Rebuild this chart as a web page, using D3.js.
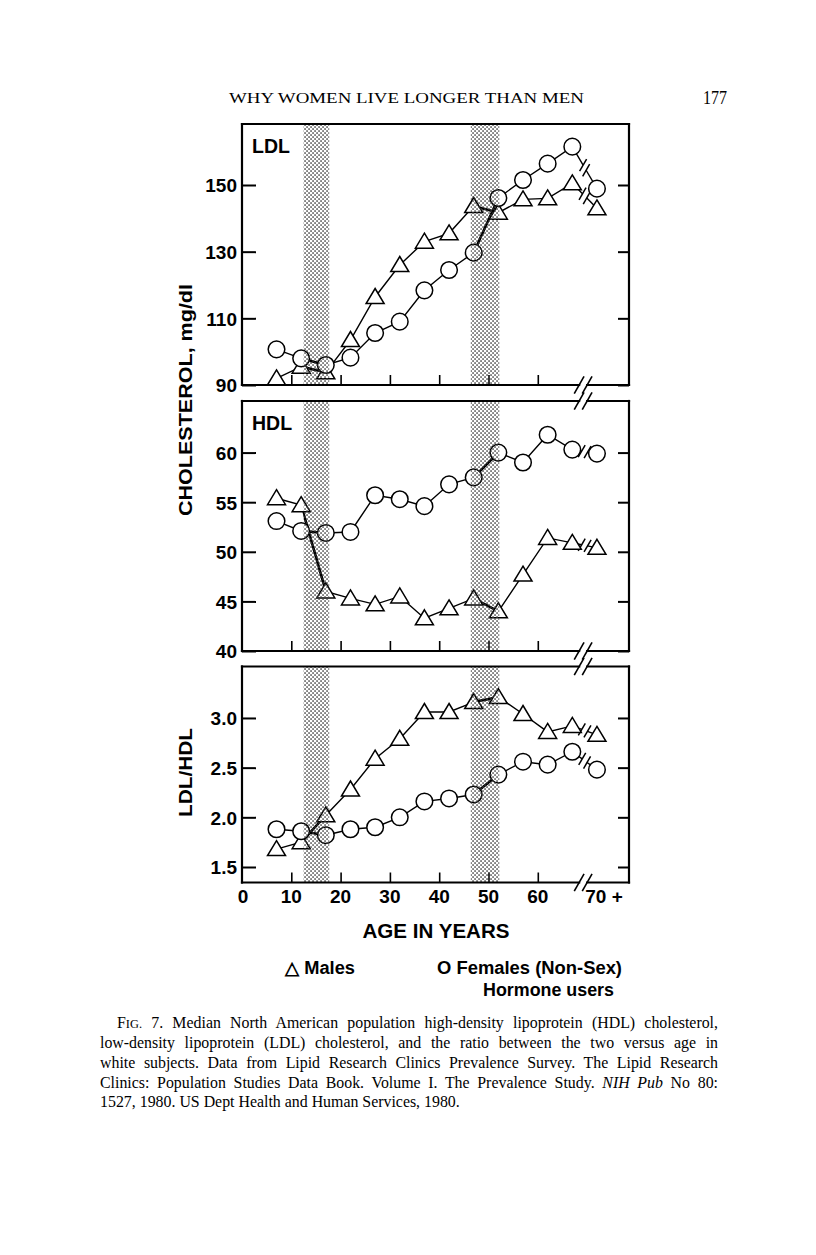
<!DOCTYPE html>
<html><head><meta charset="utf-8">
<script src="https://cdn.jsdelivr.net/npm/d3@7/dist/d3.min.js"></script>
<style>body{margin:0;background:#fff}svg{display:block}</style>
</head><body>
<svg id="c" width="816" height="1255"></svg>
<script>
// ---- data ----
const ages = [7, 12, 17, 22, 27, 32, 37, 42, 47, 52, 57, 62, 67, 72]; // last = "70 +"
const ldlFemales = [100.7, 98, 96, 98.2, 105.6, 109, 118.4, 124.5, 129.7, 146.1, 151.5, 156.4, 161.5, 148.9];
const ldlMales   = [92, 95.5, 93.8, 103.5, 116.4, 126, 133, 135.5, 143.7, 141.7, 145.7, 146, 150.5, 143];
const hdlFemales = [53.1, 52.1, 51.9, 52.0, 55.7, 55.3, 54.6, 56.8, 57.5, 60.0, 59.0, 61.8, 60.3, 59.9];
const hdlMales   = [55.4, 54.7, 46.0, 45.3, 44.7, 45.5, 43.3, 44.3, 45.3, 44.0, 47.7, 51.4, 50.9, 50.4];
const ratioFemales = [1.88, 1.86, 1.82, 1.88, 1.90, 2.00, 2.16, 2.19, 2.23, 2.43, 2.56, 2.53, 2.66, 2.48];
const ratioMales   = [1.68, 1.75, 2.02, 2.28, 2.59, 2.79, 3.06, 3.06, 3.16, 3.21, 3.04, 2.86, 2.92, 2.83];
const ldlTicks = [90, 110, 130, 150];
const hdlTicks = [40, 45, 50, 55, 60];
const ratioTicks = [1.5, 2.0, 2.5, 3.0];
const xTicks = [0, 10, 20, 30, 40, 50, 60];
const xLastLabel = "70 +";
const bands = [[12.5, 17.7], [46.4, 52.2]];
const breakAge = 69.2;

const svg = d3.select("#c");
const SANS = "'Liberation Sans', Arial, Helvetica, sans-serif";
const SERIF = "'Liberation Serif', 'Times New Roman', serif";

const x = d3.scaleLinear().domain([0, 78.5]).range([242, 629]);
const X0 = 242, X1 = 629;

// stipple pattern
const defs = svg.append("defs");
const pat = defs.append("pattern").attr("id", "stip").attr("patternUnits", "userSpaceOnUse")
  .attr("width", 4).attr("height", 4);
pat.append("rect").attr("x", 0.3).attr("y", 0.3).attr("width", 1.5).attr("height", 1.5).attr("fill", "#3a3a3a");
pat.append("rect").attr("x", 2.3).attr("y", 2.3).attr("width", 1.5).attr("height", 1.5).attr("fill", "#3a3a3a");

const panels = [
  {id: "ldl", top: 124, bottom: 385, domain: [90, 168.3], ticks: ldlTicks, fmt: d3.format("d"),
   f: ldlFemales, m: ldlMales, label: "LDL", topBreak: false},
  {id: "hdl", top: 401, bottom: 651, domain: [40, 65.2], ticks: hdlTicks, fmt: d3.format("d"),
   f: hdlFemales, m: hdlMales, label: "HDL", topBreak: true},
  {id: "ratio", top: 666.5, bottom: 882.5, domain: [1.344, 3.518], ticks: ratioTicks, fmt: d3.format(".1f"),
   f: ratioFemales, m: ratioMales, label: null, topBreak: true}
];

const bx = x(breakAge);

function hBorder(g, y, withBreak) {
  if (!withBreak) {
    g.append("line").attr("x1", X0).attr("x2", X1).attr("y1", y).attr("y2", y);
    return;
  }
  g.append("line").attr("x1", X0).attr("x2", bx - 4).attr("y1", y).attr("y2", y);
  g.append("line").attr("x1", bx + 4).attr("x2", X1).attr("y1", y).attr("y2", y);
  [bx - 4, bx + 4].forEach(cx => {
    g.append("line").attr("x1", cx - 4.5).attr("y1", y + 8).attr("x2", cx + 4.5).attr("y2", y - 8)
      .attr("stroke-width", 1.6);
  });
}

const triPath = "M0,-8.5L9,6.5L-9,6.5Z";

panels.forEach((p, pi) => {
  const y = d3.scaleLinear().domain(p.domain).range([p.bottom, p.top]);
  const g = svg.append("g");

  // axes (ticks inside)
  const la = g.append("g").attr("transform", `translate(${X0},0)`)
    .call(d3.axisLeft(y).tickValues(p.ticks).tickFormat(p.fmt).tickSize(-14).tickPadding(5));
  la.select(".domain").remove();
  la.selectAll("line").attr("stroke", "#000").attr("stroke-width", 2);
  la.selectAll("text").attr("font-family", SANS).attr("font-weight", "bold").attr("font-size", 19)
    .attr("fill", "#000").attr("dy", "0.36em");
  const ra = g.append("g").attr("transform", `translate(${X1},0)`)
    .call(d3.axisRight(y).tickValues(p.ticks).tickFormat("").tickSize(-11));
  ra.select(".domain").remove();
  ra.selectAll("line").attr("stroke", "#000").attr("stroke-width", 2);
  const ba = g.append("g").attr("transform", `translate(0,${p.bottom})`)
    .call(d3.axisBottom(x).tickValues(xTicks.slice(1)).tickFormat("").tickSize(-10));
  ba.select(".domain").remove();
  ba.selectAll("line").attr("stroke", "#000").attr("stroke-width", 1.6);

  // series lines with break between the last two points
  const drawSeries = (vals, sw, clip) => {
    const pts = vals.map((v, i) => [x(ages[i]), y(v)]);
    const n = pts.length;
    const a = pts[n - 2], b = pts[n - 1];
    const dx = b[0] - a[0], dy = b[1] - a[1], L = Math.hypot(dx, dy);
    const ux = dx / L, uy = dy / L;
    const mx = (a[0] + b[0]) / 2, my = (a[1] + b[1]) / 2;
    const g1 = [mx - 3 * ux, my - 3 * uy], g2 = [mx + 3 * ux, my + 3 * uy];
    const sg = g.append("g").attr("fill", "none").attr("stroke", "#000").attr("stroke-width", sw);
    if (clip) sg.attr("clip-path", `url(#${clip})`);
    sg.append("path").attr("d", d3.line()(pts.slice(0, n - 1).concat([g1])));
    sg.append("path").attr("d", d3.line()([g2, b]));
    if (!clip) {
      const s = [Math.cos(Math.PI / 3), -Math.sin(Math.PI / 3)];
      [g1, g2].forEach(c => {
        sg.append("line").attr("x1", c[0] - 7 * s[0]).attr("y1", c[1] - 7 * s[1])
          .attr("x2", c[0] + 7 * s[0]).attr("y2", c[1] + 7 * s[1]).attr("stroke-width", 1.5);
      });
    }
    return pts;
  };
  const fp = drawSeries(p.f, 1.4, null);
  const mp = drawSeries(p.m, 1.4, null);
  // heavier lines inside the shaded bands
  const bandClip = "bclip" + pi;
  const bc = defs.append("clipPath").attr("id", bandClip);
  bands.forEach(bd => bc.append("rect").attr("x", x(bd[0])).attr("y", p.top)
    .attr("width", x(bd[1]) - x(bd[0])).attr("height", p.bottom - p.top));
  drawSeries(p.f, 2.6, bandClip);
  drawSeries(p.m, 2.6, bandClip);

  // markers
  g.append("g").selectAll("path").data(mp).join("path")
    .attr("d", triPath).attr("transform", d => `translate(${d[0]},${d[1]})`)
    .attr("fill", "#fff").attr("stroke", "#000").attr("stroke-width", 1.5);
  g.append("g").selectAll("circle").data(fp).join("circle")
    .attr("cx", d => d[0]).attr("cy", d => d[1]).attr("r", 8.3)
    .attr("fill", "#fff").attr("stroke", "#000").attr("stroke-width", 1.5);

  // stippled bands (over everything)
  g.append("g").selectAll("rect").data(bands).join("rect")
    .attr("x", d => x(d[0])).attr("width", d => x(d[1]) - x(d[0]))
    .attr("y", p.top).attr("height", p.bottom - p.top).attr("fill", "url(#stip)");

  // frame
  const fr = g.append("g").attr("stroke", "#000").attr("stroke-width", 2.2).attr("stroke-linecap", "square");
  fr.append("line").attr("x1", X0).attr("x2", X0).attr("y1", p.top).attr("y2", p.bottom);
  fr.append("line").attr("x1", X1).attr("x2", X1).attr("y1", p.top).attr("y2", p.bottom);
  hBorder(fr, p.top, p.topBreak);
  hBorder(fr, p.bottom, true);

  if (p.label) {
    g.append("text").attr("x", 252).attr("y", p.top + 29).text(p.label)
      .attr("font-family", SANS).attr("font-weight", "bold").attr("font-size", 19.5);
  }
});

// x tick labels
const xl = svg.append("g").attr("font-family", SANS).attr("font-weight", "bold").attr("font-size", 19)
  .attr("text-anchor", "middle");
xTicks.forEach(t => xl.append("text").attr("x", x(t) + (t === 0 ? 1 : 0)).attr("y", 903).text(t));
xl.append("text").attr("x", 604).attr("y", 903).text(xLastLabel);

// titles
svg.append("text").attr("x", 436).attr("y", 938).attr("text-anchor", "middle")
  .attr("font-family", SANS).attr("font-weight", "bold").attr("font-size", 20)
  .attr("textLength", 147).attr("lengthAdjust", "spacingAndGlyphs").text("AGE IN YEARS");
svg.append("text").attr("transform", "translate(192,400) rotate(-90)").attr("text-anchor", "middle")
  .attr("font-family", SANS).attr("font-weight", "bold").attr("font-size", 18)
  .attr("textLength", 232).attr("lengthAdjust", "spacingAndGlyphs").text("CHOLESTEROL,  mg/dl");
svg.append("text").attr("transform", "translate(192,772.5) rotate(-90)").attr("text-anchor", "middle")
  .attr("font-family", SANS).attr("font-weight", "bold").attr("font-size", 18)
  .attr("textLength", 89).attr("lengthAdjust", "spacingAndGlyphs").text("LDL/HDL");

// legend
const lg = svg.append("g").attr("font-family", SANS).attr("font-weight", "bold").attr("font-size", 18);
lg.append("text").attr("x", 285).attr("y", 974).attr("textLength", 70).attr("lengthAdjust", "spacingAndGlyphs").text("\u25B3 Males");
lg.append("text").attr("x", 437).attr("y", 974).attr("textLength", 185).attr("lengthAdjust", "spacingAndGlyphs").text("O Females (Non-Sex)");
lg.append("text").attr("x", 483).attr("y", 996).attr("textLength", 131).attr("lengthAdjust", "spacingAndGlyphs").text("Hormone users");

// running head
svg.append("text").attr("x", 229).attr("y", 103).attr("font-family", SERIF).attr("font-size", 15.5)
  .attr("textLength", 355).attr("lengthAdjust", "spacingAndGlyphs").text("WHY WOMEN LIVE LONGER THAN MEN");
svg.append("text").attr("x", 703).attr("y", 104).attr("font-family", SERIF).attr("font-size", 19)
  .attr("textLength", 24).attr("lengthAdjust", "spacingAndGlyphs").text("177");

// caption
const capLines = [
  {x: 117, y: 1028, w: 601, parts: [["F", {}], ["IG.", {small: true}], [" 7. Median North American population high-density lipoprotein (HDL) cholesterol,", {}]]},
  {x: 100, y: 1048, w: 618, parts: [["low-density lipoprotein (LDL) cholesterol, and the ratio between the two versus age in", {}]]},
  {x: 100, y: 1068, w: 618, parts: [["white subjects. Data from Lipid Research Clinics Prevalence Survey. The Lipid Research", {}]]},
  {x: 100, y: 1088, w: 618, parts: [["Clinics: Population Studies Data Book. Volume I. The Prevalence Study. ", {}], ["NIH Pub", {italic: true}], [" No 80:", {}]]},
  {x: 100, y: 1107, w: null, parts: [["1527, 1980. US Dept Health and Human Services, 1980.", {}]]}
];
const cap = svg.append("g").attr("font-family", SERIF).attr("fill", "#000");
// size font so the unjustified last line matches its width
const probe = cap.append("text").attr("font-size", 15).text(capLines[4].parts[0][0]);
const fs = 15 * 360 / probe.node().getComputedTextLength();
probe.remove();
capLines.forEach(l => {
  const t = cap.append("text").attr("x", l.x).attr("y", l.y).attr("font-size", fs);
  l.parts.forEach(([s, o]) => {
    const ts = t.append("tspan").text(s);
    if (o.small) ts.attr("font-size", fs * 0.78);
    if (o.italic) ts.attr("font-style", "italic");
  });
  if (l.w) {
    const wlen = t.node().getComputedTextLength();
    const spaces = l.parts.map(p => p[0]).join("").split(" ").length - 1;
    t.attr("word-spacing", Math.max(0, (l.w - wlen) / spaces));
    const w2 = t.node().getComputedTextLength();
    if (w2 > l.w + 1) t.attr("textLength", l.w).attr("lengthAdjust", "spacingAndGlyphs");
  }
});
</script>
</body></html>
